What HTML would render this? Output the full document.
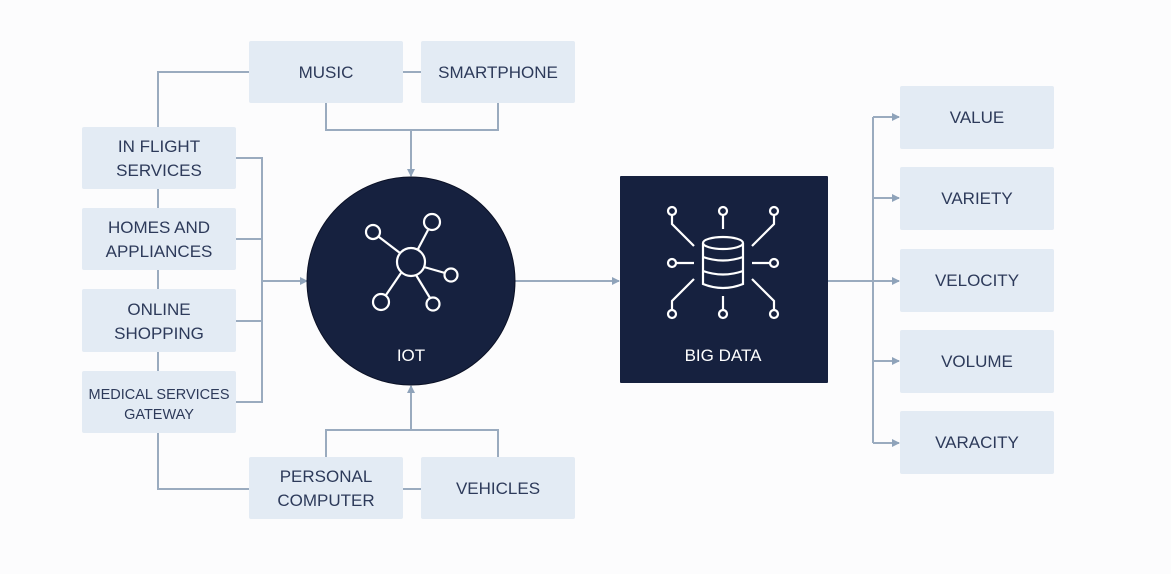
<!DOCTYPE html>
<html><head><meta charset="utf-8"><style>
html,body{margin:0;padding:0;background:#fcfcfd;}
svg{display:block;}
text{font-family:"Liberation Sans",sans-serif;fill:#2d3a5a;font-size:17px;text-anchor:middle;}
</style></head><body>
<svg width="1171" height="574" viewBox="0 0 1171 574" xmlns="http://www.w3.org/2000/svg">
<defs><marker id="a" markerWidth="8" markerHeight="8" refX="7" refY="4" orient="auto" markerUnits="userSpaceOnUse"><path d="M0,0 L8,4 L0,8 z" fill="#8fa3ba"/></marker></defs>
<g stroke="#9aabbf" stroke-width="2" fill="none">
<path d="M249,72 H158 V489 H249"/>
<path d="M403,72 H421"/>
<path d="M403,489 H421"/>
<path d="M326,103 V130 H498 V103"/>
<path d="M411,130 V176" marker-end="url(#a)"/>
<path d="M326,457 V430 H498 V457"/>
<path d="M411,430 V386" marker-end="url(#a)"/>
<path d="M236,158 H262 V402 H236"/>
<path d="M236,239 H262 M236,321 H262"/>
<path d="M262,281 H307" marker-end="url(#a)"/>
<path d="M515,281 H619" marker-end="url(#a)"/>
<path d="M828,281 H873 M873,117 V443"/>
<path d="M873,117 H899" marker-end="url(#a)"/>
<path d="M873,198 H899" marker-end="url(#a)"/>
<path d="M873,281 H899" marker-end="url(#a)"/>
<path d="M873,361 H899" marker-end="url(#a)"/>
<path d="M873,443 H899" marker-end="url(#a)"/>
</g>
<g fill="#e3ebf4">
<rect x="249" y="41" width="154" height="62" rx="2"/>
<rect x="421" y="41" width="154" height="62" rx="2"/>
<rect x="249" y="457" width="154" height="62" rx="2"/>
<rect x="421" y="457" width="154" height="62" rx="2"/>
<rect x="82" y="127" width="154" height="62" rx="2"/>
<rect x="82" y="208" width="154" height="62" rx="2"/>
<rect x="82" y="289" width="154" height="63" rx="2"/>
<rect x="82" y="371" width="154" height="62" rx="2"/>
<rect x="900" y="86" width="154" height="63" rx="2"/>
<rect x="900" y="167" width="154" height="63" rx="2"/>
<rect x="900" y="249" width="154" height="63" rx="2"/>
<rect x="900" y="330" width="154" height="63" rx="2"/>
<rect x="900" y="411" width="154" height="63" rx="2"/>
</g>
<text x="326" y="78">MUSIC</text>
<text x="498" y="78">SMARTPHONE</text>
<text x="326" y="482">PERSONAL</text>
<text x="326" y="506">COMPUTER</text>
<text x="498" y="494">VEHICLES</text>
<text x="159" y="152">IN FLIGHT</text>
<text x="159" y="176">SERVICES</text>
<text x="159" y="233">HOMES AND</text>
<text x="159" y="257">APPLIANCES</text>
<text x="159" y="315">ONLINE</text>
<text x="159" y="339">SHOPPING</text>
<text x="159" y="399" style="font-size:14.5px">MEDICAL SERVICES</text>
<text x="159" y="419" style="font-size:14.5px">GATEWAY</text>
<text x="977" y="123">VALUE</text>
<text x="977" y="204">VARIETY</text>
<text x="977" y="286">VELOCITY</text>
<text x="977" y="367">VOLUME</text>
<text x="977" y="448">VARACITY</text>
<circle cx="411" cy="281" r="104" fill="#16213f" stroke="#0b1126" stroke-width="1"/>
<rect x="620" y="176" width="208" height="207" fill="#16213f" rx="1"/>
<g stroke="#fff" stroke-width="2.2" fill="none">
<circle cx="411" cy="262" r="14"/>
<circle cx="373" cy="232" r="7"/><path d="M379,237 L400,253"/>
<circle cx="432" cy="222" r="8"/><path d="M428,230 L418,249"/>
<circle cx="451" cy="275" r="6.5"/><path d="M424,267 L445,273"/>
<circle cx="381" cy="302" r="8"/><path d="M386,295 L401,273"/>
<circle cx="433" cy="304" r="6.5"/><path d="M416,275 L430,298"/>
<!-- database -->
<ellipse cx="723" cy="243" rx="20" ry="6"/>
<path d="M703,243 V284 Q723,292 743,284 V243"/>
<path d="M703,257 Q723,264 743,257 M703,271 Q723,278 743,271"/>
<circle cx="672" cy="211" r="4"/><path d="M672,215 V224 L694,246"/>
<circle cx="723" cy="211" r="4"/><path d="M723,215 V229"/>
<circle cx="774" cy="211" r="4"/><path d="M774,215 V224 L752,246"/>
<circle cx="672" cy="263" r="4"/><path d="M676,263 H694"/>
<circle cx="774" cy="263" r="4"/><path d="M752,263 H770"/>
<circle cx="672" cy="314" r="4"/><path d="M672,310 V301 L694,279"/>
<circle cx="723" cy="314" r="4"/><path d="M723,296 V310"/>
<circle cx="774" cy="314" r="4"/><path d="M774,310 V301 L752,279"/>
</g>
<text x="411" y="361" style="fill:#fff">IOT</text>
<text x="723" y="361" style="fill:#fff">BIG DATA</text>
</svg>
</body></html>
